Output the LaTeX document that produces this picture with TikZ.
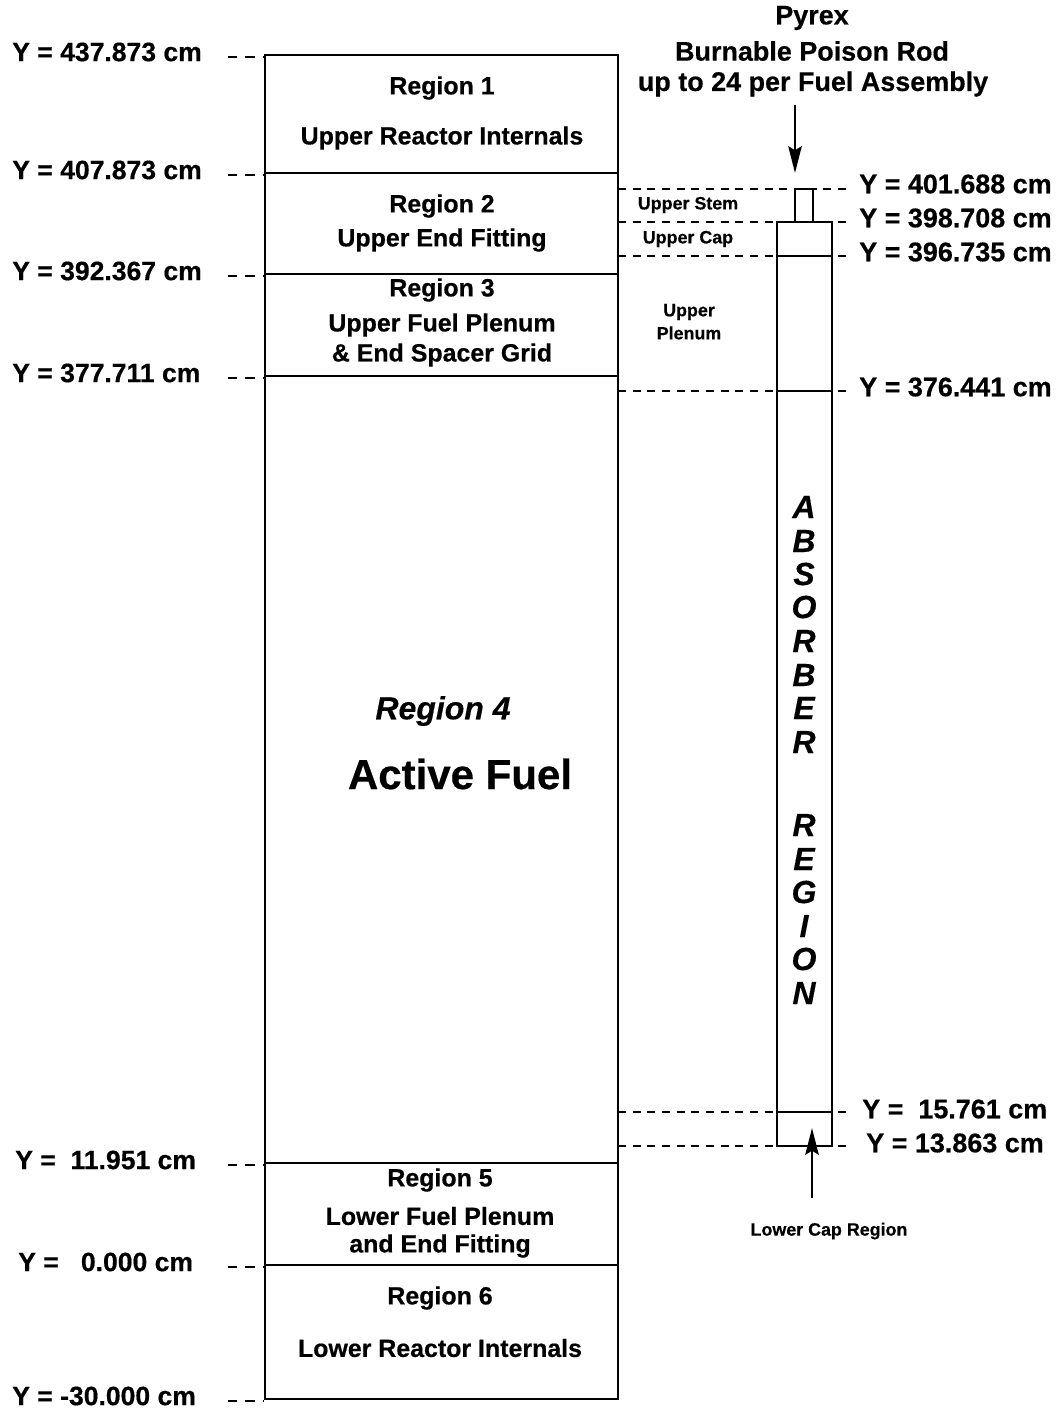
\documentclass[tikz,border=0pt]{standalone}
\usepackage{fontspec}
\setmainfont[BoldFeatures={FakeBold=0.5},BoldItalicFeatures={FakeBold=0.3}]{Liberation Sans}
\usetikzlibrary{arrows.meta}
\newcommand{\fsz}[1]{\fontsize{#1}{#1}\selectfont}
\tikzset{
  x=0.75pt,y=-0.75pt,
  ink/.style={line width=2.2pt,black},
  lead/.style={line width=1.2pt,black,dash pattern=on 6pt off 5pt},
  ylab/.style={font=\fsz{19.9}\bfseries,inner sep=0pt,anchor=west},
  ylabr/.style={font=\fsz{20.2}\bfseries,inner sep=0pt,anchor=west},
  reg/.style={font=\fsz{18.7}\bfseries,inner sep=0pt,align=center,anchor=center},
  small/.style={font=\fsz{13.4}\bfseries,inner sep=0pt,align=center,anchor=center},
  tip/.style={-{Stealth[length=20pt,width=10pt,inset=3pt]},line width=2.2pt},
  lett/.style={font=\fsz{24}\bfseries\itshape,inner sep=0pt,anchor=center},
}
\begin{document}
\begin{tikzpicture}
\useasboundingbox (0,0) rectangle (1059,1409);
% main column
\coordinate (bTL) at (265,55); \coordinate (bTR) at (618,55);
\coordinate (bBL) at (265,1399); \coordinate (bBR) at (618,1399);
\draw[ink] (bTL) rectangle (bBR);
\foreach \nm/\yy in {a/173,b/274,c/376,d/1163,e/1265}{
  \coordinate (L\nm) at (265,\yy); \coordinate (R\nm) at (618,\yy);
  \draw[ink] (L\nm) -- (R\nm);
}
% left labels and leaders
\foreach \nm/\lx/\yy/\lb in {
  t/12/55/{Y = 437.873 cm},
  a/12/173/{Y = 407.873 cm},
  b/12/274/{Y = 392.367 cm},
  c/12/376/{Y = 377.711 cm},
  d/15/1163/{Y =\ \ 11.951 cm},
  e/18/1265/{Y =\ \ \ 0.000 cm},
  f/12/1399/{Y = -30.000 cm}}{
  \node[ylab] (yl\nm) at (\lx,\yy-3) {\lb};
  \coordinate (ds\nm) at (228,\yy+2);
  \coordinate (de\nm) at (263,\yy+2);
  \draw[lead,dash pattern=on 7pt off 6pt] (ds\nm) -- (de\nm);
}
% region labels
\node[reg] (r1) at (442,88) {Region 1};
\node[reg] (r1b) at (442,138) {Upper Reactor Internals};
\node[reg] (r2) at (442,206) {Region 2};
\node[reg] (r2b) at (442,240) {Upper End Fitting};
\node[reg] (r3) at (442,290) {Region 3};
\node[reg] (r3b) at (442,325) {Upper Fuel Plenum};
\node[reg] (r3c) at (442,355) {\&\ End Spacer Grid};
\node[inner sep=0pt,font=\fsz{24}\bfseries\itshape] (r4) at (443,711) {Region 4};
\node[inner sep=0pt,font=\fsz{31.5}\bfseries] (r4b) at (460,774) {Active Fuel};
\node[reg] (r5) at (440,1180) {Region 5};
\node[reg] (r5b) at (440,1216) {Lower Fuel Plenum};
\node[reg] (r5c) at (440,1246) {and End Fitting};
\node[reg] (r6) at (440,1298) {Region 6};
\node[reg] (r6b) at (440,1348) {Lower Reactor Internals};
% rod
\coordinate (rTL) at (777,222); \coordinate (rBR) at (832,1146);
\draw[ink] (rTL) rectangle (rBR);
\draw[ink] (795,222) -- (795,189) -- (813,189) -- (813,222);
\foreach \nm/\yy in {p/256,q/391,s/1112}{
  \coordinate (rl\nm) at (777,\yy); \coordinate (rr\nm) at (832,\yy);
  \draw[ink] (rl\nm) -- (rr\nm);
}
% right leaders and labels
\foreach \nm/\yy/\xe/\lx/\ly/\lb in {
  h/189/851/859/184/{Y = 401.688 cm},
  i/222/851/859/218/{Y = 398.708 cm},
  j/256/851/859/252/{Y = 396.735 cm},
  k/391/851/859/387/{Y = 376.441 cm},
  m/1112/851/862/1109/{Y =\ \ 15.761 cm},
  n/1146/851/866/1143/{Y = 13.863 cm}}{
  \node[ylabr] (yr\nm) at (\lx,\ly) {\lb};
  \coordinate (ls\nm) at (618,\yy);
  \coordinate (le\nm) at (\xe,\yy);
  \draw[lead] (ls\nm) -- (le\nm);
}
% title
\node[reg,font=\fsz{20.2}\bfseries] (t1) at (812,18) {Pyrex};
\node[reg,font=\fsz{20.2}\bfseries] (t2) at (812,51) {Burnable Poison Rod};
\node[reg,font=\fsz{20.2}\bfseries] (t3) at (813,84) {up to 24 per Fuel Assembly};
\coordinate (aS) at (795,105); \coordinate (aE) at (795,173);
\draw[tip] (aS) -- (aE);
\coordinate (bS) at (812,1198); \coordinate (bE) at (812,1128);
\draw[tip] (bS) -- (bE);
% small labels
\node[small] (u1) at (688,205) {Upper Stem};
\node[small] (u2) at (688,239) {Upper Cap};
\node[small] (u3) at (689,312) {Upper};
\node[small] (u4) at (689,333) {Plenum};
\node[small] (u5) at (829,1231) {Lower Cap Region};
% absorber letters
\foreach \nm/\yy/\c in {A/507/A,B/541/B,C/574/S,D/607/O,E/641/R,F/675/B,G/708/E,H/742/R,I/825/R,J/859/E,K/892/G,L/926/I,M/959/O,N/993/N}{
  \node[lett] (l\nm) at (804,\yy) {\c};
}
\end{tikzpicture}
\end{document}
